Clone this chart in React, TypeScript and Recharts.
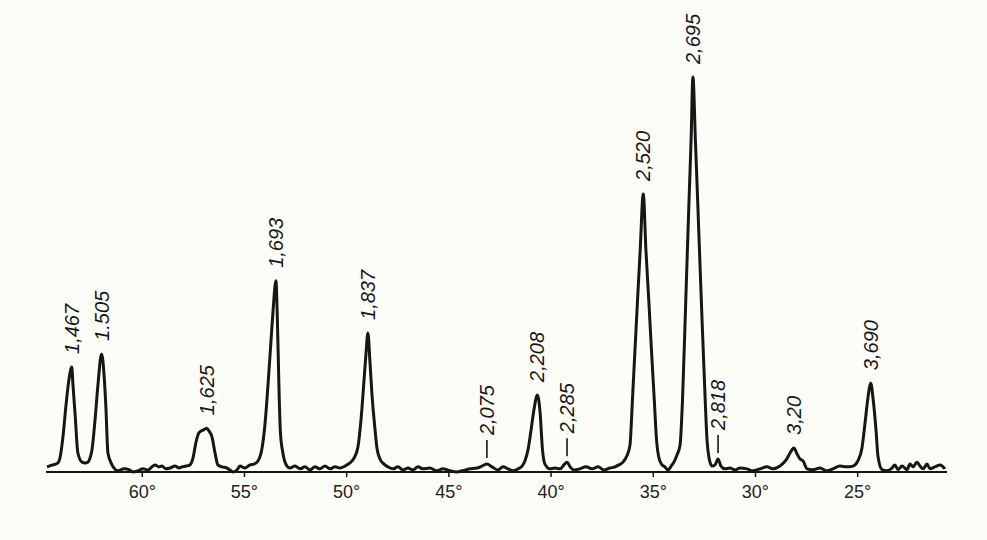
import React from "react";
import { ComposedChart, Line, Scatter, XAxis, YAxis } from "recharts";

// Diffractogram trace, [2θ in degrees, relative intensity]
const scanA: [number, number][] = [
  [64.66, 1.3], [64.37, 1.8], [64.12, 2.3], [64.03, 3.5], [63.88, 8.9], [63.73, 17.0], [63.59, 23.3],
  [63.45, 26.6], [63.39, 22.0], [63.29, 14.9], [63.15, 4.8], [62.95, 2.5], [62.8, 2.3], [62.66, 2.5],
  [62.56, 3.5], [62.46, 5.6], [62.31, 13.2], [62.17, 22.0], [61.99, 29.9], [61.87, 24.6], [61.78, 16.5],
  [61.68, 4.8], [61.48, 1.8], [61.19, 0.3], [60.9, 0.8], [60.6, 0.5], [60.47, 0], [60.21, 0.3],
  [59.97, 0.8], [59.72, 0.5], [59.53, 1.3], [59.38, 1.8], [59.18, 1.3], [59.04, 1.5], [58.84, 0.8],
  [58.64, 1.0], [58.4, 1.5], [58.2, 1.0], [58.06, 1.3], [57.86, 1.5], [57.67, 1.8], [57.52, 3.5],
  [57.37, 7.6], [57.23, 9.9], [57.03, 10.6], [56.85, 11.1], [56.74, 10.4], [56.59, 8.9], [56.44, 4.8],
  [56.3, 1.8], [56.1, 1.3], [55.86, 1.0], [55.71, 0.5], [55.56, 0], [55.37, 0.5], [55.22, 1.5],
  [54.98, 1.0], [54.73, 1.8], [54.54, 2.0], [54.34, 2.8], [54.14, 6.1], [54.0, 11.9], [53.85, 22.0],
  [53.7, 33.4], [53.6, 41.0], [53.46, 48.4], [53.39, 38.5], [53.31, 20.8], [53.24, 9.9], [53.12, 4.8],
  [52.92, 1.5],
];
const scanB: [number, number][] = [
  [52.77, 1.0], [52.53, 1.5], [52.28, 0.8], [52.04, 1.3], [51.79, 0.5], [51.55, 1.3], [51.31, 0.8],
  [51.06, 1.5], [50.82, 0.8], [50.57, 1.3], [50.33, 1.0], [50.08, 1.5], [49.84, 2.3], [49.64, 3.5],
  [49.45, 6.3], [49.3, 13.2], [49.15, 23.3], [49.06, 29.6], [48.96, 35.2], [48.86, 27.8], [48.76, 19.5],
  [48.61, 10.6], [48.52, 6.1], [48.37, 3.3], [48.17, 2.0], [47.98, 1.3],
];
const scanC: [number, number][] = [
  [47.73, 0.8], [47.49, 1.3], [47.25, 0.5], [47.0, 1.0], [46.76, 0.5], [46.51, 1.3], [46.27, 0.8],
  [45.93, 1.0], [45.58, 0.3], [45.29, 0.8], [44.95, 0.3], [44.6, 0], [44.36, 0.3], [43.97, 0.8],
  [43.63, 1.0], [43.38, 1.5], [43.14, 2.0], [42.89, 1.3], [42.6, 0.5], [42.35, 1.3], [42.11, 0.8],
  [41.86, 0.3], [41.62, 0.8], [41.42, 1.5], [41.28, 2.8], [41.13, 5.6], [40.98, 10.6], [40.84, 15.7],
  [40.67, 19.5], [40.54, 15.2], [40.42, 5.6], [40.3, 2.0], [40.05, 0.8], [39.81, 1.0], [39.56, 0.8],
  [39.37, 1.8], [39.22, 2.5], [39.07, 1.3], [38.88, 0.5],
];
const scanD: [number, number][] = [
  [38.59, 0.8], [38.29, 1.3], [38.0, 0.8], [37.7, 1.3], [37.41, 0.5], [37.12, 1.0], [36.87, 1.3],
  [36.68, 1.8], [36.48, 2.5], [36.29, 4.1], [36.14, 6.8], [36.02, 18.2], [35.9, 30.4], [35.77, 43.5],
  [35.64, 56.2], [35.49, 70.4], [35.36, 56.2], [35.22, 43.5], [35.09, 30.9], [34.95, 18.2], [34.84, 8.1],
  [34.72, 3.5], [34.57, 1.8], [34.43, 1.3], [34.28, 0.5], [34.13, 1.5], [33.99, 2.5], [33.84, 4.3],
  [33.69, 6.8], [33.57, 18.2], [33.41, 43.5], [33.25, 68.9], [33.15, 84.1], [33.06, 100], [32.94, 84.1],
  [32.83, 68.9], [32.65, 43.5], [32.46, 18.2], [32.37, 8.1], [32.27, 3.5], [32.13, 1.5], [31.98, 1.8],
  [31.83, 3.3], [31.69, 1.5], [31.49, 0.8], [31.25, 1.0], [31.0, 0.5], [30.76, 1.0], [30.42, 0.8],
  [30.12, 0.3],
];
const scanE: [number, number][] = [
  [29.78, 0.8], [29.44, 1.3], [29.14, 0.8], [28.8, 1.5], [28.51, 3.0], [28.31, 4.8], [28.12, 6.1],
  [27.97, 4.6], [27.82, 3.3], [27.67, 2.8], [27.48, 0.8], [27.19, 0.6], [26.85, 1.0], [26.5, 0.3],
  [26.21, 0.8], [25.87, 1.5], [25.52, 1.3], [25.23, 1.5], [24.99, 2.8], [24.79, 6.1], [24.64, 12.4],
  [24.5, 18.7], [24.36, 22.5], [24.25, 18.7], [24.1, 10.4], [24.01, 4.1], [23.81, 0.6], [23.57, 0.3],
  [23.32, 1.0], [23.18, 1.8], [23.03, 0.6], [22.83, 1.5], [22.59, 0.6], [22.44, 2.0], [22.29, 1.3],
  [22.1, 2.5], [21.95, 1.5], [21.8, 0.8], [21.61, 2.0], [21.46, 0.8], [21.22, 1.3], [20.97, 1.8],
  [20.73, 0.8],
];

// Peak annotations (d-spacings)
const peakText = ["1,467", "1.505", "1,625", "1,693", "1,837", "2,075", "2,208", "2,285", "2,520", "2,695", "2,818", "3,20", "3,690"];
const peakAngle = [63.45, 61.99, 56.85, 53.46, 48.96, 43.14, 40.67, 39.22, 35.49, 33.06, 31.83, 28.12, 24.36];
const peakTop = [26.6, 29.9, 11.1, 48.4, 35.2, 2.0, 19.5, 2.5, 70.4, 100, 3.3, 6.1, 22.5];
const leaderPeaks = ["2,075", "2,285", "2,818"];

const angleTicks = [25, 30, 35, 40, 45, 50, 55, 60];

const trace = [...scanA, ...scanB, ...scanC, ...scanD, ...scanE].map(([a, v]) => ({ a, v }));
const peaks = peakText.map((t, i) => ({ a: peakAngle[i], v: peakTop[i], t }));

const INK = "#161616";
const LABEL_FONT = "'Liberation Sans', Arial, sans-serif";

const PeakLabel = (props: any) => {
  const { cx, cy, payload } = props;
  if (cx == null || cy == null || !payload) return null;
  const lead = leaderPeaks.includes(payload.t);
  const y0 = lead ? cy - 29 : cy - 13;
  return (
    <g>
      {lead && (
        <line x1={cx} x2={cx} y1={cy - 6} y2={cy - 24} stroke={INK} strokeWidth={1.6} />
      )}
      <text
        x={cx}
        y={y0}
        transform={`rotate(-90 ${cx} ${y0})`}
        textAnchor="start"
        dominantBaseline="central"
        fontFamily={LABEL_FONT}
        fontStyle="italic"
        fontSize={20}
        fill={INK}
      >
        {payload.t}
      </text>
    </g>
  );
};

export default function App() {
  return (
    <div
      style={{
        position: "absolute",
        left: 0,
        top: 0,
        width: 987,
        height: 540,
        background: "#fdfdf8",
      }}
    >
      <ComposedChart
        width={987}
        height={540}
        margin={{ top: 77, right: 40, bottom: 38, left: 46 }}
      >
        <XAxis
          dataKey="a"
          type="number"
          domain={[20.63, 64.71]}
          reversed
          ticks={angleTicks}
          tickFormatter={(v: number) => `${v}°`}
          height={30}
          tickSize={5}
          tickMargin={8}
          axisLine={{ stroke: INK, strokeWidth: 2 }}
          tickLine={{ stroke: INK, strokeWidth: 1.5 }}
          tick={{ fill: "#222", fontSize: 18, fontFamily: LABEL_FONT }}
          interval={0}
        />
        <YAxis type="number" domain={[0, 100]} hide />
        <Line
          data={trace}
          dataKey="v"
          type="monotone"
          stroke={INK}
          strokeWidth={3}
          strokeLinejoin="round"
          dot={false}
          activeDot={false}
          isAnimationActive={false}
        />
        <Scatter
          data={peaks}
          dataKey="v"
          isAnimationActive={false}
          shape={(p: any) => <PeakLabel {...p} />}
        />
      </ComposedChart>
    </div>
  );
}
